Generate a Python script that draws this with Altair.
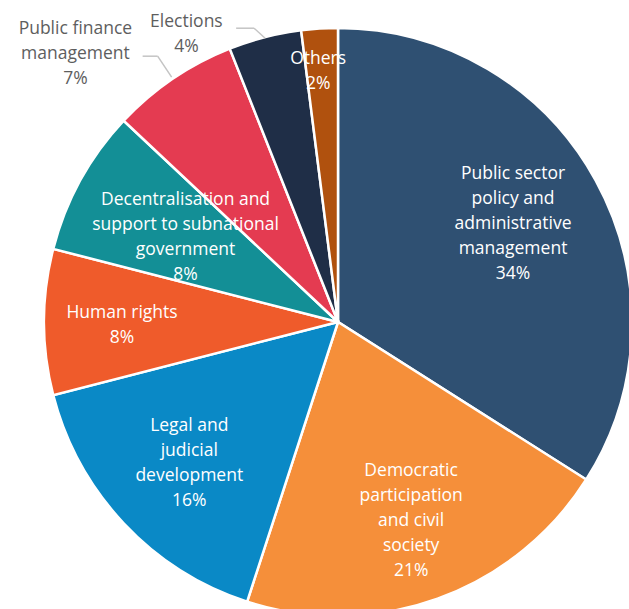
import altair as alt
import pandas as pd

categories = [
    "Public sector policy and administrative management",
    "Democratic participation and civil society",
    "Legal and judicial development",
    "Human rights",
    "Decentralisation and support to subnational government",
    "Public finance management",
    "Elections",
    "Others",
]
values = [34, 21, 16, 8, 8, 7, 4, 2]
wrapped = [
    "Public sector\npolicy and\nadministrative\nmanagement",
    "Democratic\nparticipation\nand civil\nsociety",
    "Legal and\njudicial\ndevelopment",
    "Human rights",
    "Decentralisation and\nsupport to subnational\ngovernment",
    "Public finance\nmanagement",
    "Elections",
    "Others",
]
colors = ["#2F5072", "#F58F3A", "#0A89C6", "#EF5B2B", "#138F96", "#E43B51", "#1F2E47", "#B0510E"]

df = pd.DataFrame({"category": categories, "value": values, "label": wrapped, "order": list(range(len(values)))})

CX, CY, R = 338, 322, 294
FONT = "Open Sans"
FS = 17.5
LH = 25

base = alt.Chart(df).encode(
    theta=alt.Theta("value:Q", stack=True, scale=alt.Scale(domain=[0, 100])),
    order=alt.Order("order:Q"),
    x=alt.value(CX),
    y=alt.value(CY),
)

pie = base.mark_arc(outerRadius=R, stroke="white", strokeWidth=2.5).encode(
    color=alt.Color("category:N", scale=alt.Scale(domain=categories, range=colors), legend=None)
)

# label placement style: (radius, dx, dy, colour)
placement = {
    categories[0]: (202, -2, -1, "white"),
    categories[1]: (210, 2, 1, "white"),
    categories[2]: (204, 0, 2, "white"),
    categories[3]: (216, 0, 3, "white"),
    categories[4]: (174, 0, -1, "white"),
    categories[5]: (300, -94, -20, "#5E5E5E"),
    categories[6]: (300, -77, 3, "#5E5E5E"),
    categories[7]: (253, -4, 2, "white"),
}


def label_layer(idx):
    cat = categories[idx]
    n_lines = wrapped[idx].count("\n") + 2
    radius, dx, dy, color = placement[cat]
    return base.transform_calculate(
        txt=f"datum.category == '{cat}' ? datum.label + '\\n' + datum.value + '%' : ''"
    ).mark_text(
        radius=radius, font=FONT, fontSize=FS, lineHeight=LH, lineBreak="\n",
        color=color, align="center", baseline="middle", dx=dx,
        dy=dy - (n_lines - 1) * LH / 2,
    ).encode(text="txt:N")


def leader(cat, r, ddx, ddy, hlen):
    t = alt.Chart(df).transform_joinaggregate(total="sum(value)").transform_window(
        cum="sum(value)", sort=[alt.SortField("order")], frame=[None, 0]
    ).transform_calculate(
        a="2*PI*(datum.cum - datum.value/2)/datum.total",
        x0=f"{CX} + {r}*sin(datum.a)",
        y0=f"{CY} - {r}*cos(datum.a)",
        x1=f"datum.x0 + ({ddx})",
        y1=f"datum.y0 + ({ddy})",
        x2=f"datum.x1 - {hlen}",
    ).transform_filter(alt.datum.category == cat)
    seg1 = t.mark_rule(color="#C4C4C4", strokeWidth=1.5).encode(
        x=alt.X("x0:Q", scale=None), y=alt.Y("y0:Q", scale=None), x2="x1:Q", y2="y1:Q"
    )
    seg2 = t.mark_rule(color="#C4C4C4", strokeWidth=1.5).encode(
        x=alt.X("x1:Q", scale=None), y=alt.Y("y1:Q", scale=None), x2="x2:Q", y2="y1:Q"
    )
    return [seg1, seg2]


layers = [pie] + [label_layer(i) for i in range(len(categories))]
layers += leader(categories[5], 296, -14, -21, 15)
layers += leader(categories[6], 293, -11, -10, 18)

chart = alt.layer(*layers).properties(
    width=629, height=609, padding=0, autosize="none"
).configure_view(stroke=None)

chart.save("out.html", embed_options={"renderer": "svg", "actions": False})
